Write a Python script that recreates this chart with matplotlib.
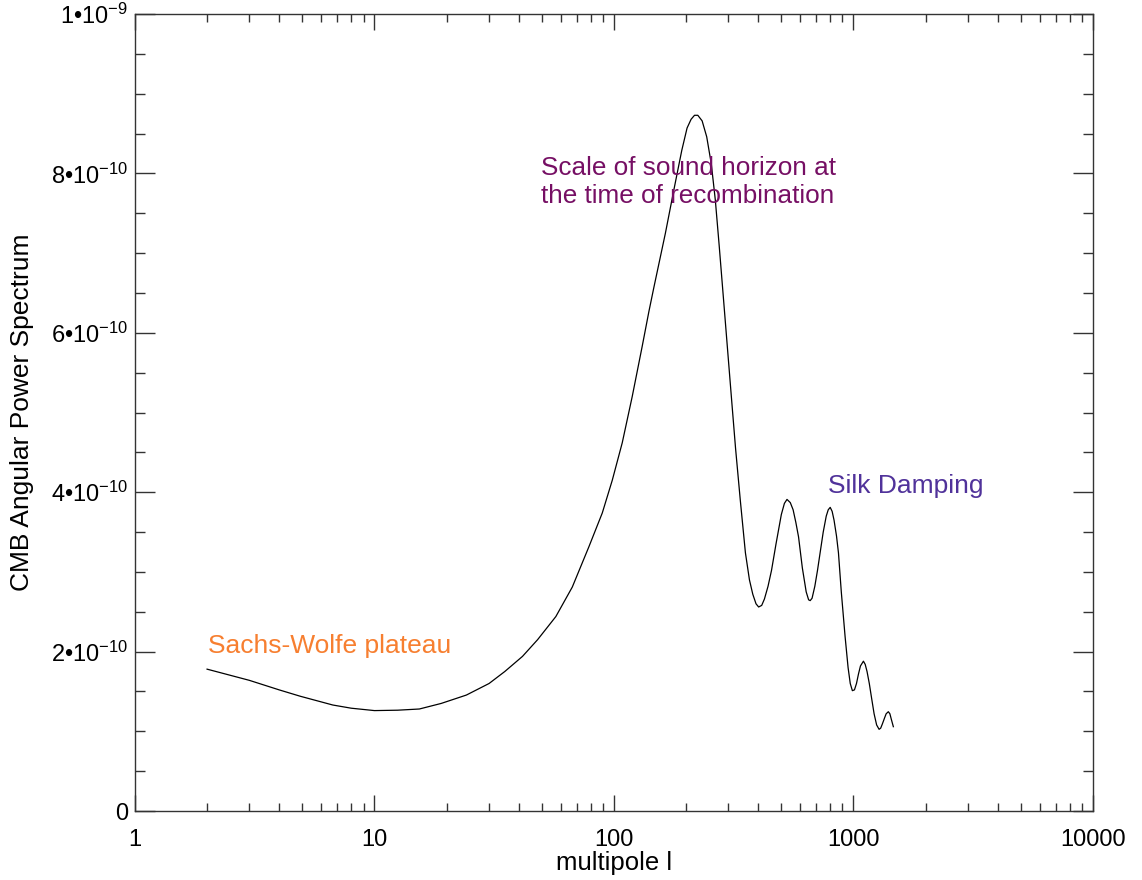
import matplotlib
matplotlib.use("Agg")
import matplotlib.pyplot as plt
from matplotlib.ticker import FixedLocator, FixedFormatter, LogLocator, NullFormatter

plt.rcParams['font.family'] = ['Liberation Sans', 'DejaVu Sans']
plt.rcParams['mathtext.fontset'] = 'custom'
plt.rcParams['mathtext.rm'] = 'Liberation Sans'
plt.rcParams['mathtext.it'] = 'Liberation Sans:italic'

# multipole l and power (units of 1e-10)
multipole = [2.0, 3.0, 4.0, 4.9, 6.7, 8.0, 10, 12.5, 15.4, 19, 24.2, 30.1, 35,
             41.5, 48, 57.2, 67.0, 78.7, 89.4, 98.4, 108.3, 119.2, 131.2, 140,
             146.8, 164, 177.8, 192, 202, 210, 217, 224, 233.5, 244, 255, 265,
             275, 287, 298, 310, 322, 337, 354, 368, 380, 392, 402, 414, 425,
             440, 455, 475, 500, 515, 528, 545, 560, 575, 590, 612, 635, 650,
             660, 672, 690, 708, 726, 748, 770, 785, 800, 815, 830, 850, 866,
             890, 923, 950, 970, 990, 1010, 1030, 1050, 1070, 1101, 1120, 1140,
             1165, 1189, 1220, 1250, 1280, 1300, 1320, 1350, 1370, 1399, 1420,
             1440, 1468]
power = [1.78, 1.64, 1.52, 1.44, 1.33, 1.29, 1.26, 1.265, 1.28, 1.35, 1.455, 1.60, 1.75,
         1.94, 2.15, 2.44, 2.81, 3.32, 3.74, 4.15, 4.62, 5.20, 5.83, 6.27,
         6.57, 7.25, 7.79, 8.29, 8.57, 8.68, 8.73, 8.73, 8.66, 8.46, 8.12, 7.67,
         7.10, 6.41, 5.80, 5.16, 4.55, 3.90, 3.24, 2.90, 2.72, 2.60, 2.56, 2.58, 2.66,
         2.82, 3.02, 3.35, 3.72, 3.86, 3.91, 3.87, 3.78, 3.62, 3.44, 3.05, 2.75, 2.65,
         2.64, 2.67, 2.82, 3.02, 3.24, 3.50, 3.70, 3.78, 3.81, 3.76, 3.65, 3.45, 3.24,
         2.75, 2.19, 1.80, 1.60, 1.51, 1.52, 1.60, 1.72, 1.82, 1.88, 1.84, 1.75,
         1.60, 1.43, 1.22, 1.08, 1.025, 1.04, 1.09, 1.17, 1.22, 1.246, 1.22,
         1.15, 1.058]

xticks = [1, 10, 100, 1000, 10000]
xticklabels = ['1', '10', '100', '1000', '10000']
yticks = [0, 2e-10, 4e-10, 6e-10, 8e-10, 1e-9]
yticklabels = ['0', '2\u202210$^{-10}$', '4\u202210$^{-10}$', '6\u202210$^{-10}$',
               '8\u202210$^{-10}$', '1\u202210$^{-9}$']

fig = plt.figure(figsize=(11.42, 8.8), dpi=100)
ax = fig.add_axes([0.1182, 0.0784, 0.957 - 0.1182, 0.984 - 0.0784])

ax.plot(multipole, [p * 1e-10 for p in power], color='black', lw=0.9)

ax.set_xscale('log')
ax.set_xlim(1, 10000)
ax.set_ylim(0, 1e-9)

ax.xaxis.set_major_locator(FixedLocator(xticks))
ax.xaxis.set_major_formatter(FixedFormatter(xticklabels))
ax.xaxis.set_minor_locator(LogLocator(base=10, subs=range(2, 10)))
ax.xaxis.set_minor_formatter(NullFormatter())
ax.yaxis.set_major_locator(FixedLocator(yticks))
ax.yaxis.set_major_formatter(FixedFormatter(yticklabels))
ax.yaxis.set_minor_locator(FixedLocator([i * 5e-11 for i in range(21)]))

for s in ax.spines.values():
    s.set_color('#333333')
    s.set_linewidth(1.0)

ax.tick_params(axis='both', which='both', direction='in', top=True, right=True,
               color='#333333', width=1.0, labelsize=17)
ax.tick_params(axis='x', which='major', length=11.5, pad=13)
ax.tick_params(axis='x', which='minor', length=5.8)
ax.tick_params(axis='y', which='major', length=14.4, pad=5)
ax.tick_params(axis='y', which='minor', length=7.2)

ax.set_xlabel('multipole l', fontsize=18.5, labelpad=0)
ax.set_ylabel('CMB Angular Power Spectrum', fontsize=19, labelpad=12)

ax.text(2.01, 0.198e-9, 'Sachs-Wolfe plateau', color='#F77F30', fontsize=19,
        va='baseline', ha='left')
ax.text(49.6, 0.763e-9, 'Scale of sound horizon at\nthe time of recombination',
        color='#760F64', fontsize=18.8, va='baseline', ha='left')
ax.text(786, 0.399e-9, 'Silk Damping', color='#50329A', fontsize=19,
        va='baseline', ha='left')

fig.savefig('out.png', dpi=100)
